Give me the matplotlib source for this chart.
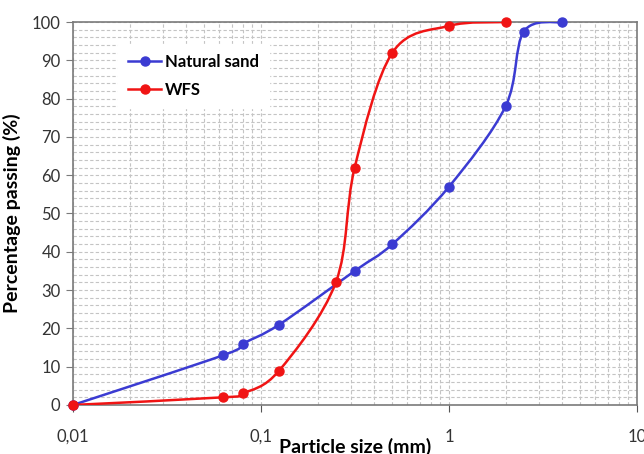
import numpy as np
import matplotlib
matplotlib.use("Agg")
import matplotlib.pyplot as plt
from matplotlib.path import Path
from matplotlib.patches import PathPatch
from matplotlib.lines import Line2D
from matplotlib.ticker import FixedLocator, FixedFormatter, LogLocator, MultipleLocator

plt.rcParams['font.family'] = ['Lato', 'DejaVu Sans']

sand_size = [0.01, 0.063, 0.08, 0.125, 0.315, 0.5, 1.0, 2.0, 2.5, 4.0]
sand_pass = [0, 13, 16, 21, 35, 42, 57, 78, 97.5, 100]
wfs_size = [0.01, 0.063, 0.08, 0.125, 0.25, 0.315, 0.5, 1.0, 2.0]
wfs_pass = [0, 2, 3, 9, 32, 62, 92, 99, 100]

x_ticks = [0.01, 0.1, 1, 10]
x_labels = ["0,01", "0,1", "1", "10"]

names = ["Natural sand", "WFS"]
colors = ["#3b3bd2", "#f01414"]


def smooth_path(xs, ys):
    # Catmull-Rom style Bezier (like a spreadsheet smoothed line), built in log-x space
    lx = np.log10(np.asarray(xs, float))
    y = np.asarray(ys, float)
    n = len(lx)
    verts = [(xs[0], ys[0])]
    codes = [Path.MOVETO]
    for i in range(n - 1):
        p0 = (lx[max(i - 1, 0)], y[max(i - 1, 0)])
        p1 = (lx[i], y[i])
        p2 = (lx[i + 1], y[i + 1])
        p3 = (lx[min(i + 2, n - 1)], y[min(i + 2, n - 1)])
        c1 = (p1[0] + (p2[0] - p0[0]) / 6, p1[1] + (p2[1] - p0[1]) / 6)
        c2 = (p2[0] - (p3[0] - p1[0]) / 6, p2[1] - (p3[1] - p1[1]) / 6)
        for c in (c1, c2, p2):
            verts.append((10 ** c[0], c[1]))
            codes.append(Path.CURVE4)
    return Path(verts, codes)


fig = plt.figure(figsize=(6.44, 4.54), dpi=100)
ax = fig.add_axes([0.1134, 0.108, 0.8757, 0.8435])
ax.set_xscale('log')
ax.set_xlim(0.01, 10)
ax.set_ylim(0, 100)

handles = []
for xs, ys, col, name in [(sand_size, sand_pass, colors[0], names[0]),
                          (wfs_size, wfs_pass, colors[1], names[1])]:
    ax.add_patch(PathPatch(smooth_path(xs, ys), fill=False, edgecolor=col, lw=1.8, zorder=3))
    ax.plot(xs, ys, linestyle='none', marker='o', ms=6.5, color=col, zorder=4, clip_on=False)
    handles.append(Line2D([], [], color=col, lw=1.8, marker='o', ms=6.5))

ax.xaxis.set_major_locator(FixedLocator(x_ticks))
ax.xaxis.set_major_formatter(FixedFormatter(x_labels))
ax.xaxis.set_minor_locator(LogLocator(base=10, subs=np.arange(2, 10)))
ax.xaxis.set_minor_formatter(plt.NullFormatter())
ax.yaxis.set_major_locator(MultipleLocator(10))
ax.yaxis.set_minor_locator(MultipleLocator(2))

gkw = dict(color='#c4c4c4', lw=0.8, linestyle=(0, (3, 2)))
ax.grid(True, which='both', axis='both', **gkw)
ax.set_axisbelow(True)

for s in ax.spines.values():
    s.set_color('#7a7a7a')
    s.set_linewidth(1.2)

ax.tick_params(axis='x', which='major', direction='out', length=5, pad=12, labelsize=12, color='#555555', labelcolor='#333333')
ax.tick_params(axis='x', which='minor', length=0)
ax.tick_params(axis='y', which='major', direction='out', length=5, pad=4, labelsize=12, color='#7a7a7a', labelcolor='#333333')
ax.tick_params(axis='y', which='minor', length=0)

ax.set_xlabel("Particle size (mm)", fontsize=14, fontweight='bold')
ax.xaxis.set_label_coords(0.5, -0.086)
ax.set_ylabel("Percentage passing (%)", fontsize=14, fontweight='bold')
ax.yaxis.set_label_coords(-0.093, 0.5)

leg = ax.legend(handles, names, loc='upper left', bbox_to_anchor=(0.065, 0.965),
                frameon=True, fancybox=False, edgecolor='white', facecolor='white', framealpha=1,
                prop={'weight': 'bold', 'size': 12}, handlelength=2.0, handletextpad=0.2,
                borderpad=0.6, labelspacing=0.75)

fig.savefig("out.png", dpi=100)
